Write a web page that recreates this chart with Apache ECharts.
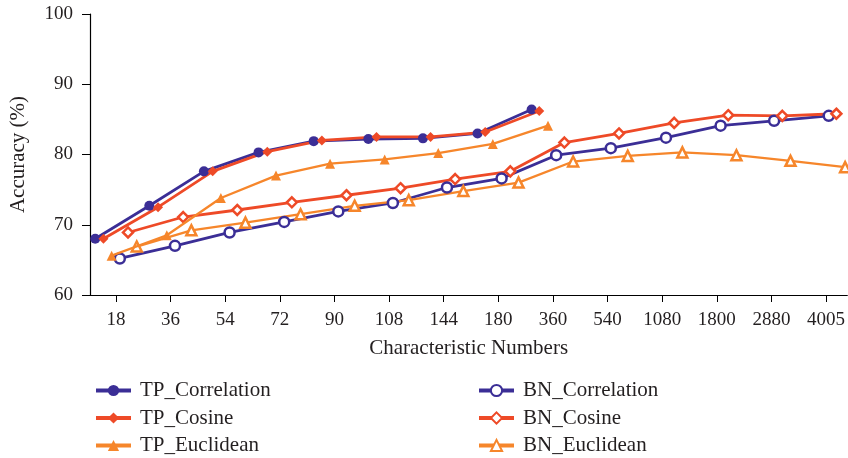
<!DOCTYPE html>
<html><head><meta charset="utf-8">
<script src="https://cdn.jsdelivr.net/npm/echarts@6/dist/echarts.min.js"></script>
<style>html,body{margin:0;padding:0;background:#fff}#c{width:848px;height:458px}</style>
</head><body><div id="c"></div>
<script>
const tickLabels = ['18','36','54','72','90','108','144','180','360','540','1080','1800','2880','4005'];
const tickPos = [1,2,3,4,5,6,7,8,9,10,11,12,13,14];

const tpCorrX = [0.62,1.61,2.61,3.61,4.62,5.62,6.62,7.62,8.61];
const tpCorrY = [68.0,72.7,77.6,80.3,81.9,82.2,82.3,83.0,86.4];
const tpCosX = [0.77,1.77,2.77,3.77,4.77,5.77,6.76,7.76,8.75];
const tpCosY = [68.0,72.5,77.6,80.4,82.0,82.5,82.5,83.2,86.2];
const tpEucX = [0.92,1.93,2.92,3.93,4.92,5.92,6.90,7.90,8.91];
const tpEucY = [65.6,68.5,73.8,77.0,78.7,79.3,80.2,81.5,84.1];
const bnCorrX = [1.07,2.08,3.08,4.08,5.07,6.07,7.06,8.06,9.06,10.06,11.07,12.07,13.05,14.05];
const bnCorrY = [65.2,67.0,68.9,70.4,71.9,73.1,75.3,76.6,79.9,80.9,82.4,84.1,84.8,85.5];
const bnCosX = [1.22,2.23,3.22,4.22,5.22,6.21,7.21,8.22,9.21,10.21,11.22,12.21,13.20,14.19];
const bnCosY = [68.9,71.1,72.1,73.2,74.2,75.2,76.5,77.6,81.7,83.0,84.5,85.6,85.5,85.8];
const bnEucX = [1.38,2.38,3.37,4.38,5.37,6.36,7.36,8.37,9.37,10.37,11.37,12.36,13.35,14.35];
const bnEucY = [66.9,69.2,70.3,71.5,72.7,73.5,74.8,76.0,79.0,79.8,80.3,79.9,79.1,78.2];

const BLUE='#3b2e96', RED='#ee4a27', ORANGE='#f6862b';
const FONT='Liberation Serif';
const TXT='#231f20';
const zip=(xs,ys)=>xs.map((x,i)=>[x,ys[i]]);

function ser(name,xs,ys,color,symbol,hollow,lw){
  return {name,type:'line',data:zip(xs,ys),symbol,symbolSize:hollow?10:10,
    lineStyle:{color,width:lw||2.8},
    itemStyle:{color:hollow?'#fff':color,borderColor:color,borderWidth:hollow?2.5:0},
    color:color,z:hollow?3:4,clip:false};
}
const legendText={fontFamily:FONT,fontSize:21,color:TXT,lineHeight:21,padding:[0,0,0,4]};

const chart=echarts.init(document.getElementById('c'),null,{renderer:'canvas'});
chart.setOption({
  animation:false,
  textStyle:{fontFamily:FONT},
  grid:{left:90,top:14,right:0,bottom:163},
  xAxis:{type:'value',min:0.524,max:14.39,
    name:'Characteristic Numbers',nameLocation:'middle',nameGap:43,
    nameTextStyle:{fontFamily:FONT,fontSize:21,color:TXT},
    axisLine:{show:true,lineStyle:{color:'#000',width:1.2}},
    axisTick:{show:true,length:7,customValues:tickPos,lineStyle:{color:'#000'}},
    axisLabel:{customValues:tickPos,fontFamily:FONT,fontSize:19,color:TXT,margin:16,
      formatter:v=>tickLabels[Math.round(v)-1]},
    splitLine:{show:false}},
  yAxis:{type:'value',min:60,max:100,interval:10,
    name:'Accuracy (%)',nameLocation:'middle',nameGap:61,
    nameTextStyle:{fontFamily:FONT,fontSize:21,color:TXT},
    axisLine:{show:true,lineStyle:{color:'#000',width:1.2}},
    axisTick:{show:true,length:8,lineStyle:{color:'#000'}},
    axisLabel:{fontFamily:FONT,fontSize:19,color:TXT,margin:17},
    splitLine:{show:false}},
  legend:[
    {data:['TP_Correlation','TP_Cosine','TP_Euclidean'],orient:'vertical',left:89,top:375,height:100,
     itemWidth:35,itemHeight:14,itemGap:6.5,textStyle:legendText,lineStyle:{width:4}},
    {data:['BN_Correlation','BN_Cosine','BN_Euclidean'],orient:'vertical',left:472,top:375,height:100,
     itemWidth:35,itemHeight:14,itemGap:6.5,textStyle:legendText,lineStyle:{width:4}}
  ],
  series:[
    ser('TP_Correlation',tpCorrX,tpCorrY,BLUE,'circle',false),
    ser('TP_Cosine',tpCosX,tpCosY,RED,'diamond',false),
    ser('TP_Euclidean',tpEucX,tpEucY,ORANGE,'triangle',false,2.3),
    ser('BN_Correlation',bnCorrX,bnCorrY,BLUE,'circle',true),
    ser('BN_Cosine',bnCosX,bnCosY,RED,'diamond',true),
    ser('BN_Euclidean',bnEucX,bnEucY,ORANGE,'triangle',true,2.3)
  ]
});
</script></body></html>
